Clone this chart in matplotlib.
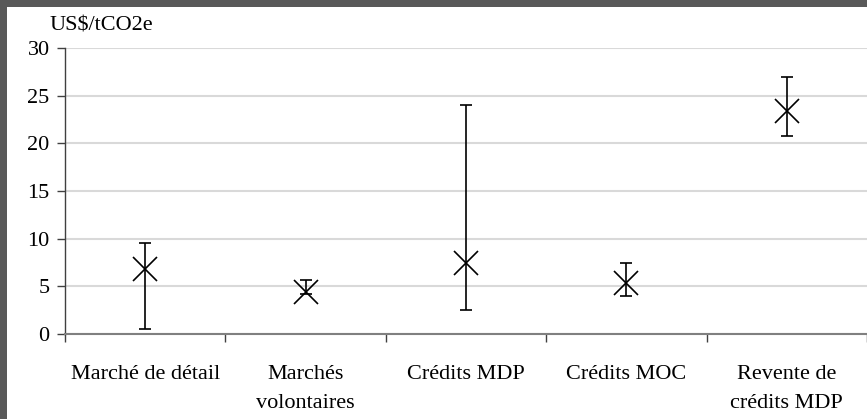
import matplotlib
matplotlib.use("Agg")
import matplotlib.pyplot as plt
from matplotlib.patches import Rectangle
import numpy as np

categories = ["Marché de détail", "Marchés\nvolontaires", "Crédits MDP",
              "Crédits MOC", "Revente de\ncrédits MDP"]
mean_vals = [6.8, 4.4, 7.5, 5.4, 23.4]
low_vals = [0.5, 4.2, 2.5, 4.0, 20.8]
high_vals = [9.5, 5.7, 24.0, 7.5, 27.0]
y_ticks = [0, 5, 10, 15, 20, 25, 30]
unit_label = "US$/tCO2e"

W, H = 867, 419
fig = plt.figure(figsize=(W / 100, H / 100), dpi=100)
fig.patch.set_facecolor("#595959")
fig.patches.append(Rectangle((7 / W, 0), 1, 1 - 7 / H, transform=fig.transFigure,
                             facecolor="white", edgecolor="none", zorder=-10))

font = "Liberation Serif"
fs = 16
ax = fig.add_axes([65 / W, (H - 334) / H, 1 - 65 / W, (334 - 48) / H])
ax.set_facecolor("white")

x = np.arange(len(categories))
mean = np.array(mean_vals)
err = np.vstack([mean - np.array(low_vals), np.array(high_vals) - mean])
ax.errorbar(x, mean, yerr=err, fmt="none", ecolor="black", elinewidth=1.2,
            capsize=4, capthick=1.2, zorder=3)
ax.plot(x, mean, linestyle="none", marker="x", markersize=17, color="black",
        markeredgewidth=1.2, zorder=4)

ax.set_xlim(-0.5, len(categories) - 0.5)
ax.set_ylim(0, 30)
ax.set_yticks(y_ticks)
ax.yaxis.grid(True, color="#d9d9d9", linewidth=1.5)
ax.set_axisbelow(True)

ax.set_xticks(np.arange(len(categories) + 1) - 0.5)
ax.set_xticklabels([""] * (len(categories) + 1))
ax.set_xticks(x, minor=True)
ax.set_xticklabels(categories, minor=True, fontsize=fs, family=font, linespacing=1.75,
                   va="top")
ax.tick_params(axis="x", which="major", length=6, width=1, color="#404040", direction="out")
ax.tick_params(axis="x", which="minor", length=0, pad=22)
ax.tick_params(axis="y", length=6, width=1, color="#404040", pad=5, labelsize=fs)
for lab in ax.get_yticklabels():
    lab.set_family(font)

for s in ["top", "right"]:
    ax.spines[s].set_visible(False)
ax.spines["left"].set_color("#404040")
ax.spines["bottom"].set_color("#808080")
ax.spines["left"].set_linewidth(1.0)
ax.spines["bottom"].set_linewidth(1.5)

fig.text(50 / W, 1 - 26 / H, unit_label, fontsize=fs, family=font, ha="left", va="center")

fig.savefig("out.png", dpi=100, facecolor=fig.get_facecolor())
